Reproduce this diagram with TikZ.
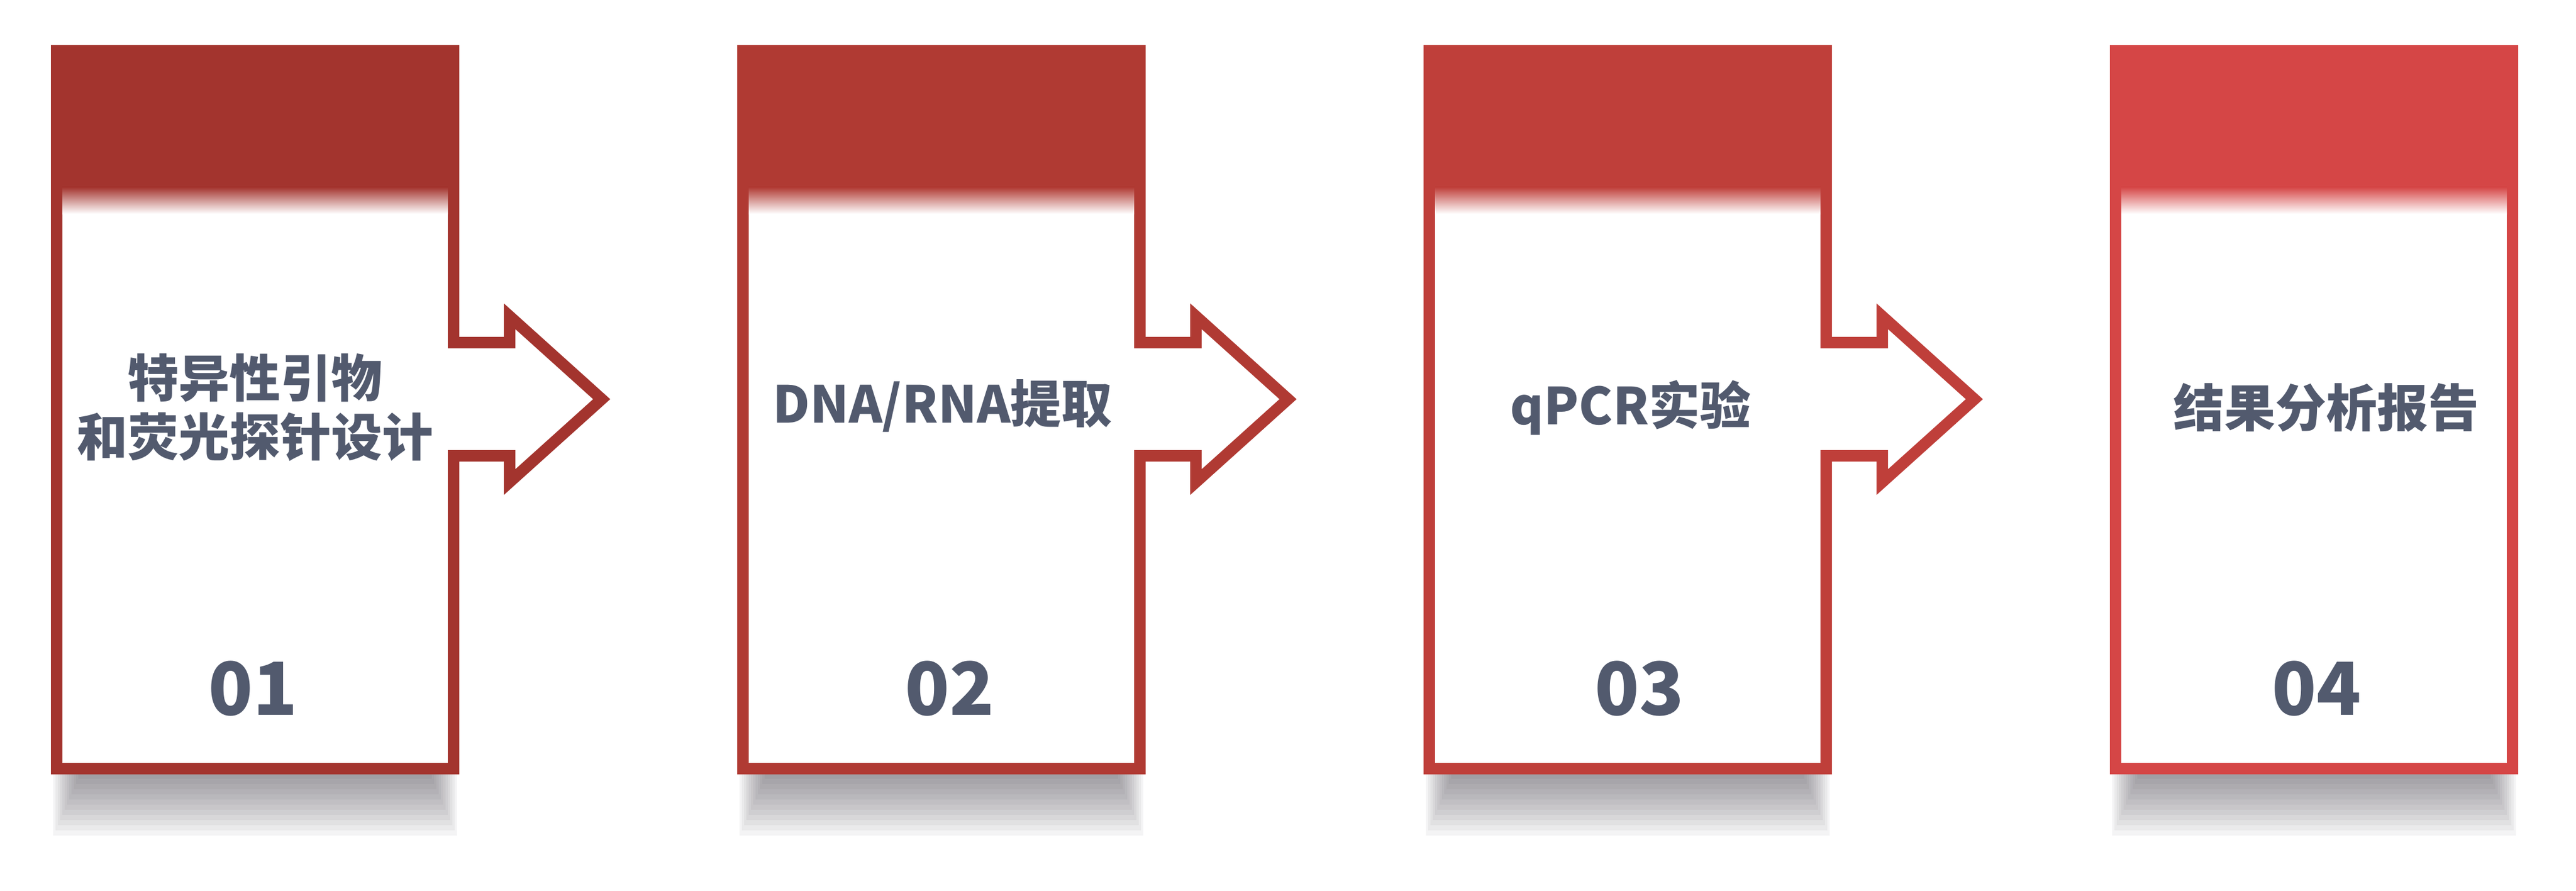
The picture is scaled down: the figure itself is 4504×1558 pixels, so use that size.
\documentclass[tikz,border=0pt]{standalone}
\usepackage{fontspec}
\newfontfamily\cjk{Noto Sans CJK SC}
\usepackage{xcolor}

\definecolor{redone}{HTML}{A3342E}
\definecolor{redtwo}{HTML}{B03A33}
\definecolor{redthree}{HTML}{BF3F3A}
\definecolor{redfour}{HTML}{D54646}
\definecolor{inkgray}{HTML}{525A6E}
\definecolor{shadowgray}{HTML}{4A4650}

\tikzset{
  stepframe/.style={line width=4pt, fill=white, miter limit=10},
  shadowlayer/.style={fill=shadowgray, fill opacity=0.06, draw=none},
  titletext/.style={font=\cjk\bfseries\fontsize{17.8pt}{20.6pt}\selectfont, text=inkgray, align=center, inner sep=0pt},
  numtext/.style={font=\cjk\bfseries\fontsize{25.6pt}{30pt}\selectfont, text=inkgray, inner sep=0pt}
}

\begin{document}
\begin{tikzpicture}[x=0.2pt, y=-0.2pt]
\useasboundingbox (0,0) rectangle (4504,1558);

% soft shadows, stacked thin layers
\foreach \dx in {0,1200,2400,3600}
  \foreach \k in {1,...,12}
    \fill[shadowlayer] ({89+\dx+4*\k},1354) rectangle ({803+\dx-4*\k},{1354+116-9*\k});

% frames with arrows
\draw[stepframe, draw=redone] (99,89) -- (793,89) -- (793,599) -- (891,599) -- (891,553) -- (1052,698) -- (891,843) -- (891,797) -- (793,797) -- (793,1344) -- (99,1344) -- cycle;
\draw[stepframe, draw=redtwo] (1299,89) -- (1993,89) -- (1993,599) -- (2091,599) -- (2091,553) -- (2252,698) -- (2091,843) -- (2091,797) -- (1993,797) -- (1993,1344) -- (1299,1344) -- cycle;
\draw[stepframe, draw=redthree] (2499,89) -- (3193,89) -- (3193,599) -- (3291,599) -- (3291,553) -- (3452,698) -- (3291,843) -- (3291,797) -- (3193,797) -- (3193,1344) -- (2499,1344) -- cycle;
\draw[stepframe, draw=redfour] (3699,89) rectangle (4393,1344);

% top bands
\fill[redone] (89,79) rectangle (803,328);
\shade[top color=redone, bottom color=white] (109,327) rectangle (783,374);
\fill[redtwo] (1289,79) rectangle (2003,328);
\shade[top color=redtwo, bottom color=white] (1309,327) rectangle (1983,374);
\fill[redthree] (2489,79) rectangle (3203,328);
\shade[top color=redthree, bottom color=white] (2509,327) rectangle (3183,374);
\fill[redfour] (3689,79) rectangle (4403,328);
\shade[top color=redfour, bottom color=white] (3709,327) rectangle (4383,374);

% labels
\node (design) [titletext] at (446,712) {特异性引物\\和荧光探针设计};
\node (extract) [titletext] at (1648,710) {DNA/RNA提取};
\node (qpcr) [titletext] at (2851,713) {qPCR实验};
\node (report) [titletext] at (4067,713) {结果分析报告};

\node (numone) [numtext] at (442,1204) {01};
\node (numtwo) [numtext] at (1660,1204) {02};
\node (numthree) [numtext] at (2866,1204) {03};
\node (numfour) [numtext] at (4050,1204) {04};

\end{tikzpicture}
\end{document}
